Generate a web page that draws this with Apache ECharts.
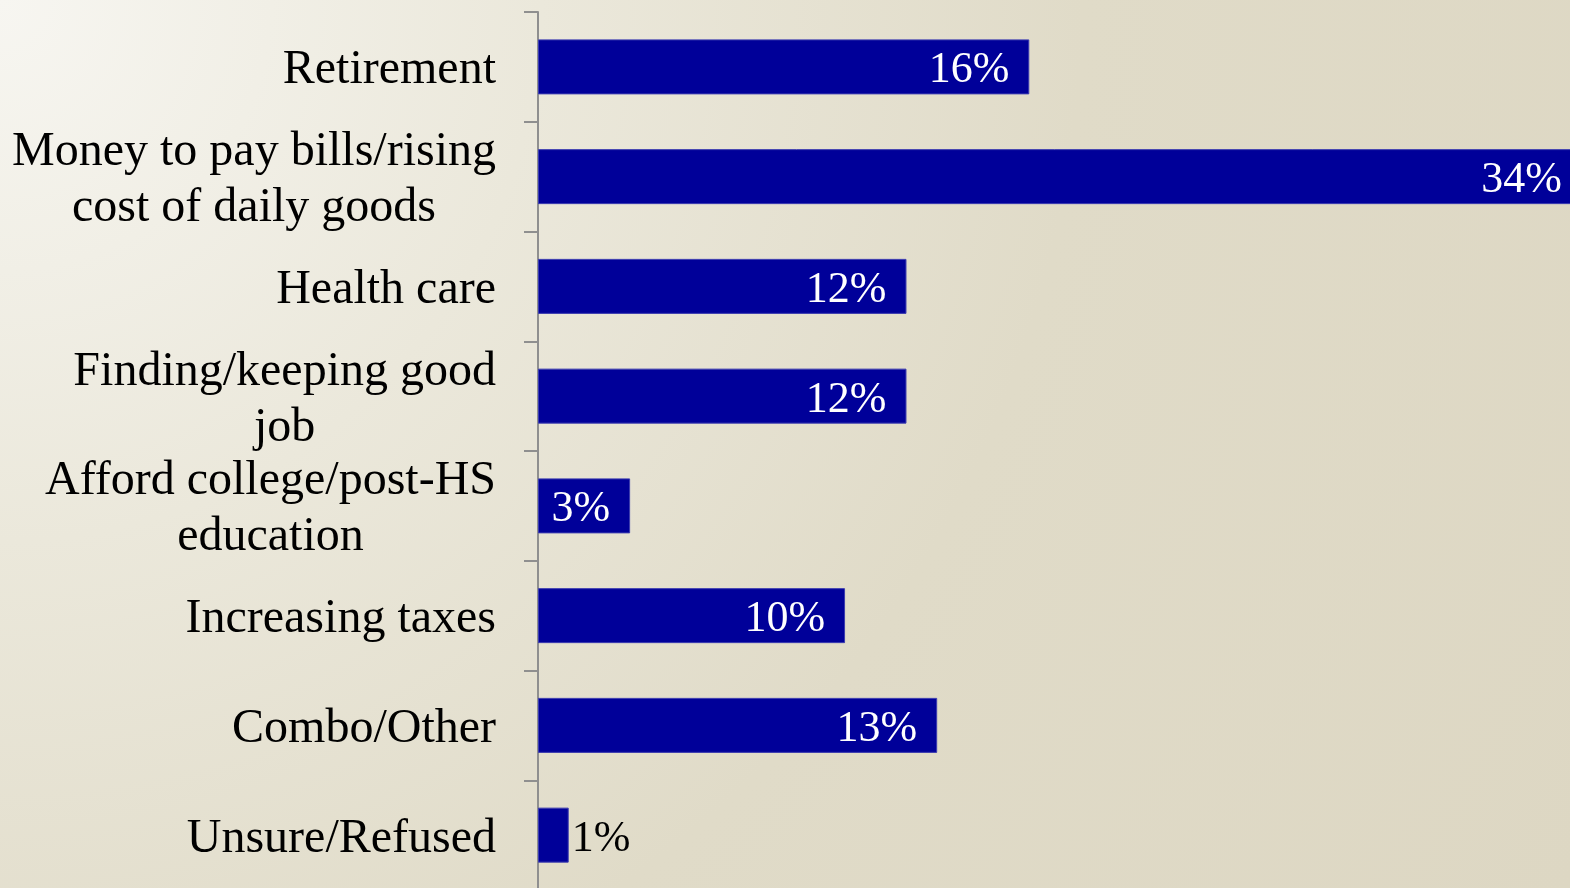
<!DOCTYPE html>
<html>
<head>
<meta charset="utf-8">
<script src="https://cdn.jsdelivr.net/npm/echarts@6/dist/echarts.min.js"></script>
<style>
  html, body {
    margin: 0;
    padding: 0;
  }
  body {
    background: radial-gradient(circle at 0 0, #f7f6f1 0%, #ebe8db 30%, #e0dbc8 60%, #ddd7c3 100%);
  }
  #chart {
    width: 1570px;
    height: 888px;
  }
</style>
</head>
<body>
<div id="chart"></div>
<script>
// categories top to bottom
const categories = [
  'Retirement',
  'Money to pay bills/rising\ncost of daily goods',
  'Health care',
  'Finding/keeping good\njob',
  'Afford college/post-HS\neducation',
  'Increasing taxes',
  'Combo/Other',
  'Unsure/Refused'
]
const values = [16, 34, 12, 12, 3, 10, 13, 1]

const font = '"Liberation Serif", "Times New Roman", serif'
const barColor = '#000099'

const chart = echarts.init(document.getElementById('chart'))

chart.setOption({
  backgroundColor: 'transparent',
  animation: false,
  grid: {
    left: 538,
    top: 12,
    width: 1044,
    height: 878,
    outerBoundsMode: 'none'
  },
  xAxis: {
    type: 'value',
    min: 0,
    max: 34,
    show: false
  },
  yAxis: {
    type: 'category',
    inverse: true,
    data: categories,
    axisLine: {
      lineStyle: { color: '#8f8f8f', width: 2 }
    },
    axisTick: {
      show: true,
      length: 14,
      lineStyle: { color: '#8f8f8f', width: 2 }
    },
    axisLabel: {
      interval: 0,
      margin: 42,
      align: 'right',
      padding: [8, 0, 0, 0],
      color: '#000',
      formatter: function(val) {
        return val.split('\n').map(line => '{c|' + line + '}').join('\n')
      },
      rich: {
        c: {
          align: 'center',
          fontFamily: font,
          fontSize: 48,
          lineHeight: 56,
          color: '#000'
        }
      }
    }
  },
  series: [{
    type: 'bar',
    barWidth: 55,
    itemStyle: {
      color: barColor,
      borderColor: '#3b3bb0',
      borderWidth: 1
    },
    data: values.map(v => ({
      value: v,
      label: v < 2
        ? { position: 'right', distance: 3, color: '#000' }
        : { position: 'insideRight', distance: 20, color: '#fff' }
    })),
    label: {
      show: true,
      fontFamily: font,
      fontSize: 44,
      offset: [0, 4],
      formatter: '{c}%'
    }
  }]
})
</script>
</body>
</html>
